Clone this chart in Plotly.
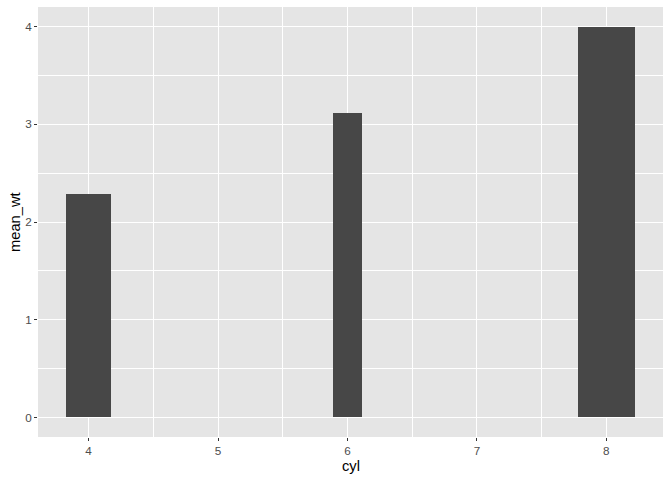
import plotly.graph_objects as go

cyl = [4, 6, 8]
mean_wt = [2.285727, 3.117143, 3.999214]
n = [11, 7, 14]
widths = [k / 32 for k in n]

x_ticks = [4, 5, 6, 7, 8]
y_ticks = [0, 1, 2, 3, 4]

fig = go.Figure()
fig.add_trace(go.Bar(x=cyl, y=mean_wt, width=widths,
                     marker=dict(color="#474747", line=dict(width=0)),
                     showlegend=False, hoverinfo="skip"))

font = "Liberation Sans, Arial, Helvetica, sans-serif"
fig.update_layout(
    width=672, height=480,
    margin=dict(l=38, r=9, t=7, b=43, autoexpand=False),
    paper_bgcolor="white", plot_bgcolor="#E5E5E5",
    font=dict(family=font, size=12, color="#4D4D4D"),
    bargap=0,
    xaxis=dict(range=[3.609, 8.438], tickvals=x_ticks, ticktext=[str(v) for v in x_ticks],
               automargin=False,
               showgrid=True, gridcolor="white", gridwidth=1.1,
               minor=dict(tickvals=[4.5, 5.5, 6.5, 7.5], showgrid=True, gridcolor="white", gridwidth=0.55, ticklen=0),
               ticks="outside", ticklen=3, tickcolor="#333333", tickwidth=1.1,
               tickfont=dict(family=font, size=11.7, color="#4D4D4D"),
               zeroline=False, showline=False),
    yaxis=dict(range=[-0.2, 4.2], tickvals=y_ticks, ticktext=[str(v) for v in y_ticks],
               automargin=False,
               showgrid=True, gridcolor="white", gridwidth=1.1,
               minor=dict(tickvals=[0.5, 1.5, 2.5, 3.5], showgrid=True, gridcolor="white", gridwidth=0.55, ticklen=0),
               ticks="outside", ticklen=3, tickcolor="#333333", tickwidth=1.1,
               tickfont=dict(family=font, size=11.7, color="#4D4D4D"),
               zeroline=False, showline=False),
    annotations=[
        dict(text="cyl", xref="paper", yref="paper", x=0.5, y=-(466 - 437) / 430, xanchor="center", yanchor="middle",
             showarrow=False, font=dict(family=font, size=14.7, color="black")),
        dict(text="mean_wt", xref="paper", yref="paper", x=-(38 - 15) / 625, y=0.5, xanchor="center", yanchor="middle",
             textangle=-90, showarrow=False, font=dict(family=font, size=14.7, color="black")),
    ],
)
fig.write_html("out.html", config={"displayModeBar": False},
               post_script="document.body.style.margin='0';document.body.style.padding='0';")
